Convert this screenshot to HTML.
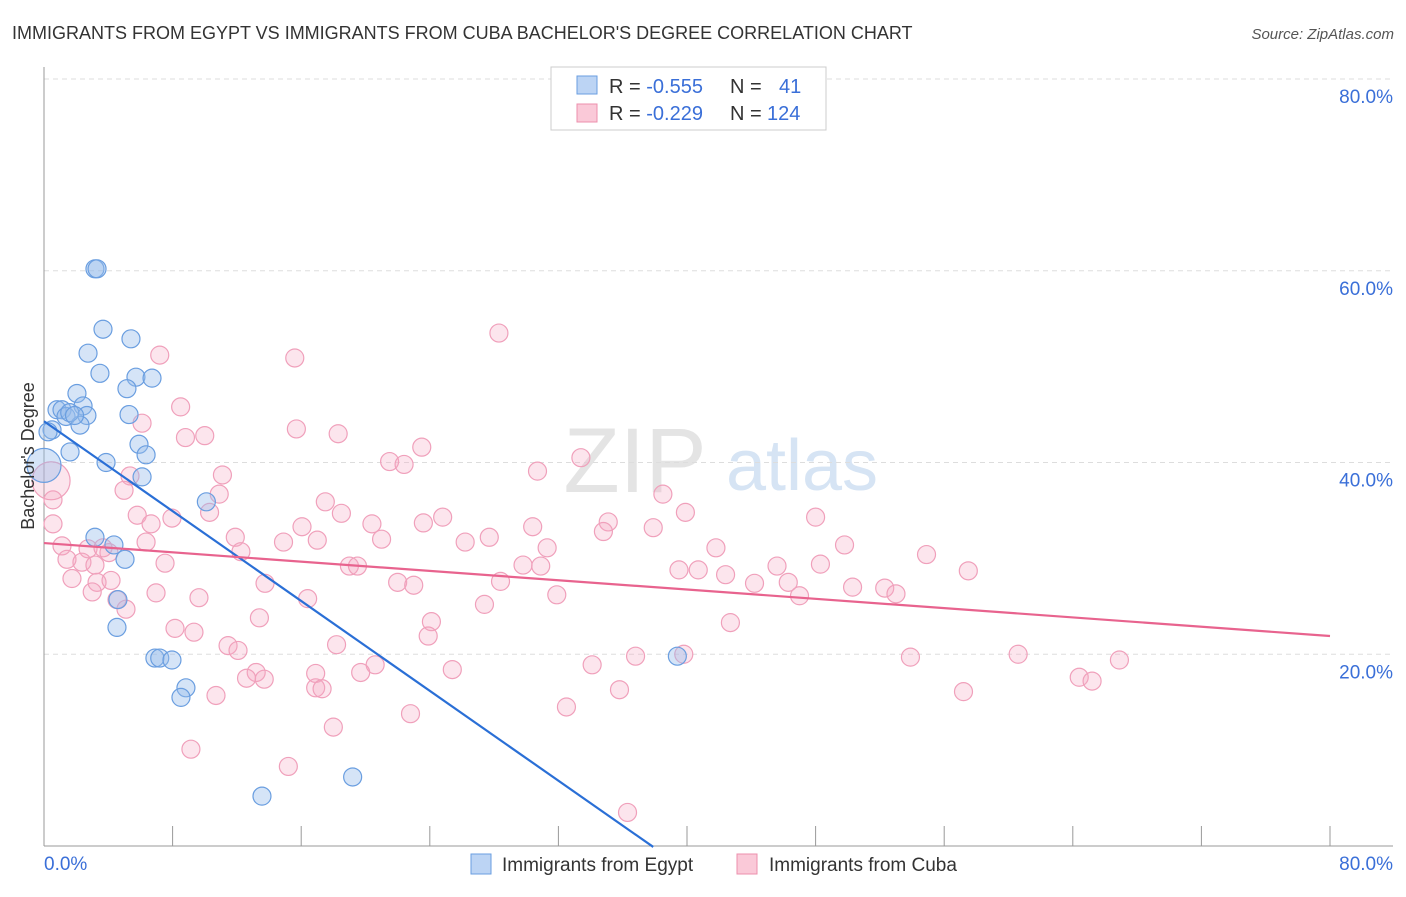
<!DOCTYPE html>
<html><head><meta charset="utf-8"><style>
body{margin:0;background:#fff;font-family:"Liberation Sans",sans-serif}
svg text{font-family:"Liberation Sans",sans-serif}
</style></head><body>
<svg id="chart" width="1406" height="892">
<text x="12" y="39" font-size="18" fill="#333">IMMIGRANTS FROM EGYPT VS IMMIGRANTS FROM CUBA BACHELOR'S DEGREE CORRELATION CHART</text>
<text x="1394" y="39" font-size="15" fill="#555" font-style="italic" text-anchor="end">Source: ZipAtlas.com</text>
<g><text x="635" y="492" font-size="92" fill="#e4e4e4" font-family="Liberation Serif" text-anchor="middle">ZIP</text><text x="802" y="490" font-size="72" fill="#d6e4f4" text-anchor="middle">atlas</text></g>
<g id="grid"></g>
<g id="axes"></g>
<g id="marks"></g>
<text transform="translate(34,456) rotate(-90)" font-size="18" fill="#333" text-anchor="middle">Bachelor's Degree</text>
<g>
<rect x="551" y="67" width="275" height="63" fill="#fff" stroke="#ccc"/>
<rect x="577" y="76" width="20" height="18" fill="#bcd4f4" stroke="#6a9ee0"/>
<rect x="577" y="104" width="20" height="18" fill="#fac9d8" stroke="#ec8fac"/>
<text x="609" y="93" font-size="20" fill="#333">R = <tspan fill="#3a6fd8">-0.555</tspan><tspan x="730">N =</tspan><tspan x="779" fill="#3a6fd8">41</tspan></text>
<text x="609" y="120" font-size="20" fill="#333">R = <tspan fill="#3a6fd8">-0.229</tspan><tspan x="730">N =</tspan><tspan x="767" fill="#3a6fd8">124</tspan></text>
</g>
<g>
<rect x="471" y="854" width="20" height="20" fill="#bcd4f4" stroke="#6a9ee0"/>
<text x="502" y="871" font-size="19" fill="#333">Immigrants from Egypt</text>
<rect x="737" y="854" width="20" height="20" fill="#fac9d8" stroke="#ec8fac"/>
<text x="769" y="871" font-size="19" fill="#333">Immigrants from Cuba</text>
</g>
</svg>
<script>
const yTicks=[20,40,60,80];
const xTickLabels=["0.0%","80.0%"];
const egyptX=[3.17,3.3,3.67,5.41,2.74,3.48,5.72,6.72,2.05,5.16,2.43,5.29,0.81,1.12,1.37,2.67,2.24,0.5,0.25,5.91,1.62,6.35,3.86,6.1,0,10.1,3.17,4.35,5.04,4.6,4.54,6.9,7.2,7.96,8.83,8.52,19.2,13.56,39.4,1.6,1.9];
const egyptY=[60.2,60.2,53.9,52.9,51.4,49.3,48.9,48.8,47.2,47.7,45.9,45.0,45.5,45.5,44.8,44.9,43.9,43.4,43.2,41.9,41.1,40.8,40.0,38.5,39.7,35.9,32.2,31.4,29.9,25.7,22.8,19.6,19.6,19.4,16.5,15.5,7.2,5.2,19.8,45.2,44.9];
const cubaX=[28.3,7.2,15.6,8.5,6.1,15.7,8.8,10.0,18.3,23.5,21.5,22.4,33.4,30.7,11.1,10.9,5.35,4.98,38.5,10.3,17.5,18.5,5.8,6.66,7.96,0.56,16.05,20.4,23.6,24.8,30.4,35.1,34.8,37.9,39.9,48.0,0.56,0.44,11.9,14.9,17.0,21.0,26.2,27.7,31.3,1.12,2.74,3.67,6.35,12.25,41.8,49.8,54.9,1.43,2.36,3.17,4.04,7.53,19.0,19.5,29.8,30.9,39.5,40.7,42.4,45.6,48.3,57.5,1.74,3.3,4.17,13.75,22.0,23.0,28.4,44.2,46.3,50.3,52.3,53.0,6.97,9.64,16.4,31.9,47.0,4.54,5.1,13.4,27.4,24.1,42.7,8.15,9.33,11.45,12.07,23.9,18.2,20.6,25.4,19.7,16.9,13.2,12.6,13.7,34.1,36.8,39.8,53.9,60.6,66.9,64.4,65.2,57.2,35.8,10.7,16.9,17.3,22.8,32.5,18.0,9.14,15.2,36.3,3.0];
const cubaY=[53.5,51.2,50.9,45.8,44.1,43.5,42.6,42.8,43.0,41.6,40.1,39.8,40.5,39.1,38.7,36.7,38.6,37.1,36.7,34.8,35.9,34.7,34.5,33.6,34.2,33.6,33.3,33.6,33.7,34.3,33.3,33.8,32.8,33.2,34.8,34.3,36.1,38.1,32.2,31.7,31.9,32.0,31.7,32.2,31.1,31.3,31.0,31.1,31.7,30.7,31.1,31.4,30.4,29.9,29.6,29.3,30.6,29.5,29.2,29.2,29.3,29.2,28.8,28.8,28.3,29.2,29.4,28.7,27.9,27.5,27.7,27.4,27.5,27.2,27.6,27.4,27.5,27.0,26.9,26.3,26.4,25.9,25.8,26.2,26.1,25.7,24.7,23.8,25.2,23.4,23.3,22.7,22.3,20.9,20.4,21.9,21.0,18.9,18.4,18.1,18.0,18.1,17.5,17.4,18.9,19.8,20.0,19.7,20.0,19.4,17.6,17.2,16.1,16.3,15.7,16.5,16.4,13.8,14.5,12.4,10.1,8.3,3.5,26.5];
const egyptTrend=[44.3,-0.1];
const cubaTrend=[31.6,21.9];
const X=v=>44+v*(1330-44)/80;
const Y=v=>846-v*(846-79)/80;
const NS="http://www.w3.org/2000/svg";
function mk(p,tag,at){const e=document.createElementNS(NS,tag);for(const k in at)e.setAttribute(k,at[k]);p.appendChild(e);return e;}
const grid=document.getElementById('grid'),axes=document.getElementById('axes'),marks=document.getElementById('marks');
yTicks.forEach(t=>{
 const l=mk(grid,'line',{x1:44,x2:1393,y1:Y(t),y2:Y(t),stroke:'#ddd','stroke-dasharray':'5,4'});
 
 
 const tx=mk(grid,'text',{x:1393,y:Y(t)+24,'font-size':19,fill:'#3a6fd8','text-anchor':'end'});
 tx.textContent=t.toFixed(1)+'%';
 
 
});
const ya=mk(axes,'line',{x1:44,x2:44,y1:67,y2:846,stroke:'#999'});


const xa=mk(axes,'line',{x1:44,x2:1393,y1:846,y2:846,stroke:'#999'});


for(let i=0;i<=10;i++){const t=mk(axes,'line',{x1:X(i*8),x2:X(i*8),y1:826,y2:846,stroke:'#999'});
 
 }
const l0=mk(axes,'text',{x:44,y:870,'font-size':19,fill:'#3a6fd8'});l0.textContent=xTickLabels[0];


const l1=mk(axes,'text',{x:1393,y:870,'font-size':19,fill:'#3a6fd8','text-anchor':'end'});l1.textContent=xTickLabels[1];


cubaX.forEach((x,i)=>{const c=mk(marks,'circle',{cx:X(x),cy:Y(cubaY[i]),r:(i==37?19:9),fill:'rgba(246,168,194,0.3)',stroke:'#f0a0bb','stroke-width':1.2});
 
 });
egyptX.forEach((x,i)=>{const c=mk(marks,'circle',{cx:X(x),cy:Y(egyptY[i]),r:(i==24?17:9),fill:'rgba(150,188,236,0.4)',stroke:'#6a9ee0','stroke-width':1.2});
 
 });
const tb=mk(marks,'line',{x1:X(0),y1:Y(egyptTrend[0]),x2:X(37.9),y2:Y(egyptTrend[1]),stroke:'#2a6fd6','stroke-width':2.2});


const tp=mk(marks,'line',{x1:X(0),y1:Y(cubaTrend[0]),x2:X(80),y2:Y(cubaTrend[1]),stroke:'#e8638e','stroke-width':2.2});


</script>
</body></html>
